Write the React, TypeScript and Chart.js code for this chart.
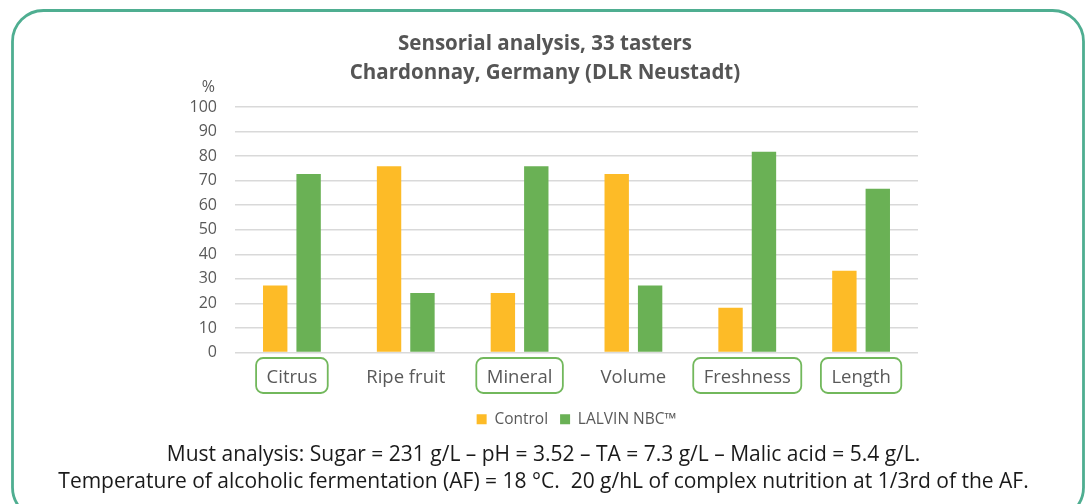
import React, { useEffect, useRef } from "react";
import { Chart, registerables } from "chart.js";

Chart.register(...registerables);

const categories = ["Citrus", "Ripe fruit", "Mineral", "Volume", "Freshness", "Length"];
const boxedCategories = [true, false, true, false, true, true];
const controlValues = [27.3, 75.8, 24.2, 72.7, 18.2, 33.3];
const nbcValues = [72.7, 24.2, 75.8, 27.3, 81.8, 66.7];
const seriesNames = ["Control", "LALVIN NBC™"];
const titleLines = ["Sensorial analysis, 33 tasters", "Chardonnay, Germany (DLR Neustadt)"];
const yUnitLabel = "%";
const footerLines = [
  "Must analysis: Sugar = 231 g/L – pH = 3.52 – TA = 7.3 g/L – Malic acid = 5.4 g/L.",
  "Temperature of alcoholic fermentation (AF) = 18 °C.  20 g/hL of complex nutrition at 1/3rd of the AF.",
];

const FONT = "'Open Sans', 'Noto Sans', sans-serif";
const ORANGE = "#FDBB27";
const GREEN = "#6AB155";
const TEXT_GRAY = "#595959";
const FRAME = "#4FAE91";
const BOX_GREEN = "#72B85C";

const decorPlugin = {
  id: "decor",
  beforeDraw(chart: any) {
    const ctx = chart.ctx;
    ctx.save();
    ctx.fillStyle = "#ffffff";
    ctx.fillRect(0, 0, chart.width, chart.height);
    ctx.strokeStyle = FRAME;
    ctx.lineWidth = 2.8;
    ctx.beginPath();
    ctx.roundRect(12.5, 10.5, chart.width - 16, chart.height + 4, 31);
    ctx.stroke();
    ctx.restore();
  },
  afterDraw(chart: any) {
    const ctx = chart.ctx;
    const xs = chart.scales.x;
    const area = chart.chartArea;
    ctx.save();
    // unit label
    ctx.font = `16px ${FONT}`;
    ctx.fillStyle = TEXT_GRAY;
    ctx.textAlign = "right";
    ctx.textBaseline = "middle";
    ctx.fillText(yUnitLabel, area.left - 20, area.top - 20);

    // boxes around highlighted category labels
    ctx.font = `18.5px ${FONT}`;
    ctx.strokeStyle = BOX_GREEN;
    ctx.lineWidth = 1.8;
    const cy = area.bottom + 23;
    categories.forEach((c, i) => {
      if (!boxedCategories[i]) return;
      const x = xs.getPixelForTick(i);
      const w = ctx.measureText(c).width + 21;
      const h = 35;
      ctx.beginPath();
      ctx.roundRect(x - w / 2, cy - h / 2, w, h, 7);
      ctx.stroke();
    });

    // footer text
    ctx.fillStyle = "#1a1a1a";
    ctx.textAlign = "center";
    ctx.textBaseline = "middle";
    ctx.font = `21px ${FONT}`;
    const cx = chart.width / 2;
    footerLines.forEach((t, i) => {
      ctx.fillText(t, cx, 455 + i * 27, 978);
    });
    ctx.restore();
  },
};

export default function App() {
  const ref = useRef<HTMLCanvasElement | null>(null);
  useEffect(() => {
    document.body.style.margin = "0";
    const chart = new Chart(ref.current!, {
      type: "bar",
      data: {
        labels: categories,
        datasets: [
          { label: seriesNames[0], data: controlValues, backgroundColor: ORANGE, categoryPercentage: 0.587, barPercentage: 0.73 },
          { label: seriesNames[1], data: nbcValues, backgroundColor: GREEN, categoryPercentage: 0.587, barPercentage: 0.73 },
        ],
      },
      options: {
        responsive: false,
        animation: false,
        layout: { padding: { top: 29, left: 172, right: 169, bottom: 67 } },
        plugins: {
          title: {
            display: true,
            text: titleLines,
            color: "#555555",
            font: { family: FONT, size: 20.5, weight: "bold", lineHeight: 1.45 },
            padding: { top: 0, bottom: 18.5 },
          },
          legend: {
            position: "bottom",
            fullSize: false,
            labels: {
              color: TEXT_GRAY,
              font: { family: FONT, size: 15.5 },
              boxWidth: 10,
              boxHeight: 10,
              padding: 12,
            },
          },
          tooltip: { enabled: false },
        },
        scales: {
          x: {
            grid: { display: false },
            border: { display: false },
            ticks: { color: TEXT_GRAY, font: { family: FONT, size: 18.5 }, padding: 6 },
            afterFit: (s: any) => { s.height = 47; },
          },
          y: {
            min: 0,
            max: 100,
            grid: { color: "#D9D9D9", lineWidth: 1.5, drawTicks: false },
            border: { display: false },
            ticks: { stepSize: 10, color: TEXT_GRAY, font: { family: FONT, size: 16 }, padding: 18 },
            afterFit: (s: any) => { s.width = 63; },
          },
        },
      },
      plugins: [decorPlugin],
    });
    return () => chart.destroy();
  }, []);
  return (
    <div style={{ width: 1087, height: 504, overflow: "hidden" }}>
      <canvas ref={ref} width={1087} height={504} style={{ display: "block" }} />
    </div>
  );
}
